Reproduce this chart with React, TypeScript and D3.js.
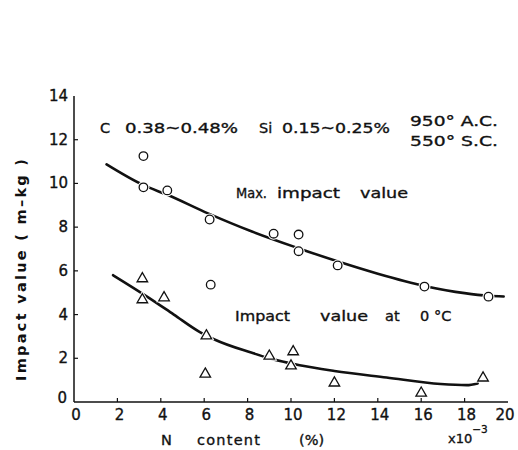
import React from "react";
import * as d3 from "d3";

// Measured points: maximum impact value (open circles)
const maxN = [3.2, 3.2, 4.3, 6.25, 9.2, 10.35, 10.35, 12.15, 16.15, 19.1];
const maxVal = [11.25, 9.82, 9.68, 8.35, 7.7, 7.66, 6.9, 6.25, 5.28, 4.82];
// Isolated circle in the lower group
const extraN = [6.3];
const extraVal = [5.37];

// Measured points: impact value at 0 °C (open triangles)
const lowN = [3.15, 3.15, 4.15, 6.1, 6.05, 9.0, 10.1, 10.0, 12.0, 16.0, 18.85];
const lowVal = [5.64, 4.68, 4.77, 3.03, 1.28, 2.1, 2.3, 1.65, 0.87, 0.41, 1.1];

// Fitted trend curves
const maxCurveN = [1.5, 3.2, 4.3, 6.2, 8.2, 10.3, 12.1, 14.0, 16.2, 18.0, 19.1, 19.8];
const maxCurveVal = [10.87, 9.92, 9.48, 8.62, 7.8, 7.05, 6.45, 5.87, 5.3, 4.98, 4.86, 4.83];
const lowCurveN = [1.8, 3.4, 4.6, 5.8, 6.5, 8.2, 9.0, 10.4, 12.0, 14.4, 16.9, 18.1, 18.6];
const lowCurveVal = [5.8, 4.8, 4.0, 3.2, 2.85, 2.25, 2.0, 1.68, 1.42, 1.12, 0.82, 0.77, 0.85];

const xTicks = [0, 2, 4, 6, 8, 10, 12, 14, 16, 18, 20];
const yTicks = [0, 2, 4, 6, 8, 10, 12, 14];

const FONT = "'DejaVu Sans', 'Liberation Sans', sans-serif";

export default function App() {
  const x = d3.scaleLinear().domain([0, 20]).range([74, 508]);
  const y = d3.scaleLinear().domain([0, 14]).range([402, 96]);

  const line = d3
    .line<[number, number]>()
    .x((d) => x(d[0]))
    .y((d) => y(d[1]))
    .curve(d3.curveMonotoneX);

  const maxPath = line(maxCurveN.map((n, i) => [n, maxCurveVal[i]]) as [number, number][]) || "";
  const lowPath = line(lowCurveN.map((n, i) => [n, lowCurveVal[i]]) as [number, number][]) || "";

  const tri = d3.symbol().type(d3.symbolTriangle).size(48)() || "";
  const triHalo = d3.symbol().type(d3.symbolTriangle).size(110)() || "";

  const circles = maxN.map((n, i) => ({ n, v: maxVal[i] })).concat(extraN.map((n, i) => ({ n, v: extraVal[i] })));
  const triangles = lowN.map((n, i) => ({ n, v: lowVal[i] }));

  const ink = { fill: "#111", stroke: "#111", strokeWidth: 0.35 } as const;
  const tickStyle = { fontFamily: FONT, fontSize: 15, ...ink } as const;
  const labelStyle = { fontFamily: FONT, fontSize: 14.5, ...ink } as const;

  return (
    <svg
      width={518}
      height={450}
      style={{ position: "absolute", left: 0, top: 0, background: "#fff" }}
    >
      {/* axes */}
      <line x1={x(0)} x2={x(0)} y1={y(14)} y2={y(0)} stroke="#111" strokeWidth={1.5} />
      <line x1={x(0)} x2={x(20)} y1={y(0)} y2={y(0)} stroke="#111" strokeWidth={1.5} />

      {yTicks.map((t) => (
        <g key={"y" + t}>
          {t > 0 && t < 14 && (
            <line x1={x(0)} x2={x(0) + 4} y1={y(t)} y2={y(t)} stroke="#111" strokeWidth={1.2} />
          )}
          <text
            x={t === 0 ? 67 : 68}
            y={t === 0 ? y(t) - 4 : y(t)}
            textAnchor="end"
            dominantBaseline="central"
            style={tickStyle}
          >
            {t}
          </text>
        </g>
      ))}

      {xTicks.map((t) => (
        <g key={"x" + t}>
          {t > 0 && t < 20 && (
            <line x1={x(t)} x2={x(t)} y1={y(0)} y2={y(0) - 4} stroke="#111" strokeWidth={1.2} />
          )}
          <text x={t === 20 ? x(t) - 3 : x(t) + 2} y={y(0) + 18} textAnchor="middle" style={tickStyle}>
            {t}
          </text>
        </g>
      ))}

      {/* axis titles */}
      <text x={161} y={445} style={labelStyle}>N</text>
      <text x={197} y={445} style={labelStyle} textLength={63} lengthAdjust="spacing">content</text>
      <text x={299} y={445} style={labelStyle}>(%)</text>
      <text x={448} y={443} style={{ ...labelStyle, fontSize: 13 }}>
        x10
        <tspan dy={-10} style={{ fontSize: 10.5 }}>−3</tspan>
      </text>

      <text
        transform="translate(26,270) rotate(-90)"
        textAnchor="middle"
        style={{ ...labelStyle, fontWeight: "bold", strokeWidth: 0 }}
        textLength={222}
        lengthAdjust="spacing"
      >
        Impact value ( m–kg )
      </text>

      {/* curves */}
      <path d={maxPath} fill="none" stroke="#111" strokeWidth={2.6} strokeLinecap="round" />
      <path d={lowPath} fill="none" stroke="#111" strokeWidth={2.6} strokeLinecap="round" />

      {/* markers */}
      {circles.map((c, i) => (
        <g key={"c" + i}>
          <circle cx={x(c.n)} cy={y(c.v)} r={6} fill="#fff" />
          <circle cx={x(c.n)} cy={y(c.v)} r={4.3} fill="#fff" stroke="#111" strokeWidth={1.3} />
        </g>
      ))}
      {triangles.map((t, i) => (
        <g key={"t" + i} transform={`translate(${x(t.n)},${y(t.v)})`}>
          <path d={triHalo} fill="#fff" />
          <path d={tri} fill="#fff" stroke="#111" strokeWidth={1.3} />
        </g>
      ))}

      {/* annotations */}
      <text x={100} y={133} style={labelStyle}>C</text>
      <text x={125} y={133} style={labelStyle} textLength={113} lengthAdjust="spacingAndGlyphs">0.38~0.48%</text>
      <text x={259} y={133} style={labelStyle}>Si</text>
      <text x={282} y={133} style={labelStyle} textLength={108} lengthAdjust="spacingAndGlyphs">0.15~0.25%</text>
      <text x={410} y={126} style={labelStyle} textLength={88} lengthAdjust="spacingAndGlyphs">950° A.C.</text>
      <text x={410} y={146} style={labelStyle} textLength={88} lengthAdjust="spacingAndGlyphs">550° S.C.</text>

      <text x={236} y={198} style={labelStyle} textLength={31} lengthAdjust="spacingAndGlyphs">Max.</text>
      <text x={277} y={198} style={labelStyle} textLength={63} lengthAdjust="spacingAndGlyphs">impact</text>
      <text x={360} y={198} style={labelStyle} textLength={48} lengthAdjust="spacingAndGlyphs">value</text>

      <text x={235} y={321} style={labelStyle} textLength={55} lengthAdjust="spacingAndGlyphs">Impact</text>
      <text x={320} y={321} style={labelStyle} textLength={48} lengthAdjust="spacingAndGlyphs">value</text>
      <text x={385} y={321} style={labelStyle}>at</text>
      <text x={420} y={321} style={labelStyle}>0</text>
      <text x={434} y={321} style={labelStyle}>°C</text>
    </svg>
  );
}
